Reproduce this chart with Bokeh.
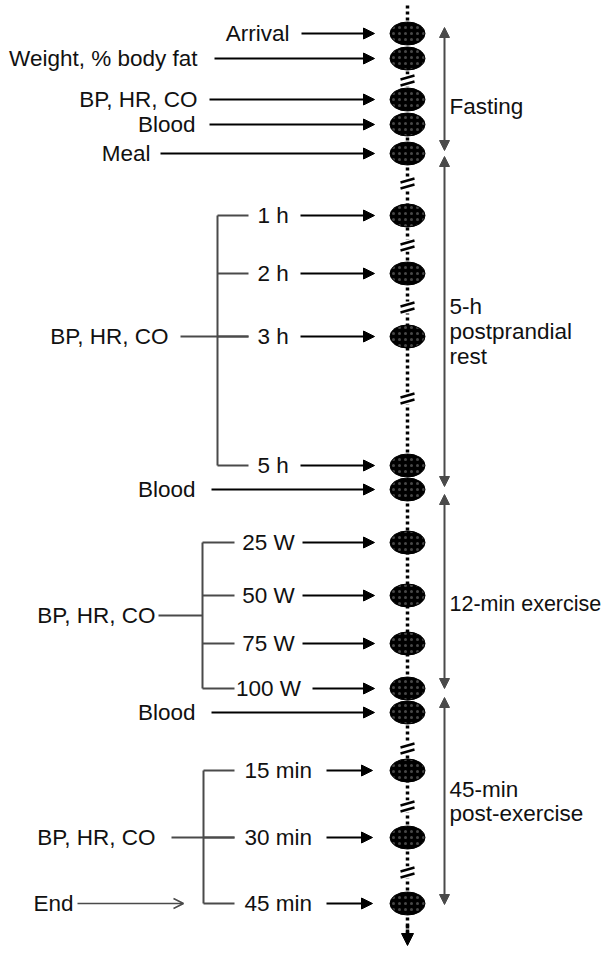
from bokeh.plotting import figure
from bokeh.models import Range1d, Arrow, NormalHead, OpenHead, ColumnDataSource
from bokeh.core.properties import value
from bokeh.embed import file_html
from bokeh.resources import INLINE

# ---------------- data ----------------
# timeline events (top to bottom) and their vertical positions on the timeline
event_labels = ["Arrival", "Weight, % body fat", "BP, HR, CO", "Blood", "Meal",
                "1 h", "2 h", "3 h", "5 h", "Blood",
                "25 W", "50 W", "75 W", "100 W", "Blood",
                "15 min", "30 min", "45 min"]
event_y = [33, 58, 99, 124, 153, 215, 273, 336, 465, 489,
           542, 595, 643, 688, 712, 770, 837, 903]

# single (non-grouped) labels
direct_labels = ["Arrival", "Weight, % body fat", "BP, HR, CO", "Blood", "Meal", "Blood", "Blood"]
direct_y = [33, 58, 99, 124, 153, 489, 712]
direct_text_right = [289, 197, 197, 195, 150, 195, 195]
direct_arrow_start = [301, 214, 209, 209, 160, 211, 211]

# grouped measurements
group_label = "BP, HR, CO"
g1_sub = ["1 h", "2 h", "3 h", "5 h"]
g1_y = [215, 273, 336, 465]
g2_sub = ["25 W", "50 W", "75 W", "100 W"]
g2_y = [542, 595, 643, 688]
g3_sub = ["15 min", "30 min", "45 min"]
g3_y = [770, 837, 903]

# break marks on the timeline
break_y = [80, 183, 245, 307, 398, 748, 806, 872]

# phases (right-hand double arrows)
phase_start = [27, 156, 494, 697]
phase_end = [150, 486, 688, 904]
phase_lines = [["Fasting"], ["5-h", "postprandial", "rest"], ["12-min exercise"], ["45-min", "post-exercise"]]
phase_line_y = [[106], [306, 331, 356], [603], [789, 813]]
phase_font = ["22.5px", "22.5px", "21.5px", "22.5px"]

# ---------------- figure ----------------
W, H = 604, 946
p = figure(width=W, height=H, x_range=Range1d(0, W), y_range=Range1d(H, 0),
           x_axis_type=None, y_axis_type=None, toolbar_location=None,
           output_backend="svg", min_border=0, outline_line_color=None)
p.grid.visible = False
p.background_fill_color = "white"

FONT = value("Liberation Sans")
FS = "22.5px"
TC = "#111111"
GRAY = "#4a4a4a"
XC = 407        # timeline x
TIP = 374       # arrow tip x

# timeline dotted line
p.segment(x0=[XC], y0=[5], x1=[XC], y1=[934], line_color="black", line_width=3.5, line_dash="3 3")
tl = Arrow(end=NormalHead(size=12, fill_color="black", line_color="black"),
           x_start=XC, y_start=925, x_end=XC, y_end=945, line_color="black", line_width=3.5,
           line_dash="3 3")
p.add_layout(tl)

# break marks
p.rect(x=[XC] * len(break_y), y=break_y, width=20, height=12, fill_color="white", line_color=None)
bx0, by0, bx1, by1 = [], [], [], []
for b in break_y:
    bx0 += [XC - 7, XC - 7]
    by0 += [b - 1, b + 5]
    bx1 += [XC + 7, XC + 7]
    by1 += [b - 5, b + 1]
p.segment(x0=bx0, y0=by0, x1=bx1, y1=by1, line_color="black", line_width=2.5)

# event ellipses
p.ellipse(x=[XC] * len(event_y), y=event_y, width=35, height=23, fill_color="black",
          line_color="black", hatch_pattern=".", hatch_color="#474747", hatch_scale=6, hatch_weight=1)

def arrows(x0, y, x1, color="black", lw=2, head=None):
    src = ColumnDataSource(dict(x0=x0, y=y, x1=x1))
    if head is None:
        head = NormalHead(size=11, fill_color=color, line_color=color)
    p.add_layout(Arrow(end=head, source=src, x_start="x0", y_start="y", x_end="x1", y_end="y",
                       line_color=color, line_width=lw))

# direct labels
p.text(x=direct_text_right, y=direct_y, text=direct_labels, text_align="right", text_baseline="middle",
       text_font=FONT, text_font_size=FS, text_color=TC)
arrows(direct_arrow_start, direct_y, [TIP] * len(direct_y))

# group 1 (postprandial)
p.text(x=[168], y=[g1_y[2]], text=[group_label], text_align="right", text_baseline="middle",
       text_font=FONT, text_font_size=FS, text_color=TC)
p.segment(x0=[180], y0=[g1_y[2]], x1=[248], y1=[g1_y[2]], line_color=GRAY, line_width=2)
p.segment(x0=[217], y0=[g1_y[0]], x1=[217], y1=[g1_y[-1]], line_color=GRAY, line_width=2)
p.segment(x0=[217] * 4, y0=g1_y, x1=[248] * 4, y1=g1_y, line_color=GRAY, line_width=2)
p.text(x=[257] * 4, y=g1_y, text=g1_sub, text_align="left", text_baseline="middle",
       text_font=FONT, text_font_size=FS, text_color=TC)
arrows([300] * 4, g1_y, [TIP] * 4)

# group 2 (exercise)
gy2 = 615
p.text(x=[155], y=[gy2], text=[group_label], text_align="right", text_baseline="middle",
       text_font=FONT, text_font_size=FS, text_color=TC)
p.segment(x0=[158], y0=[gy2], x1=[202], y1=[gy2], line_color=GRAY, line_width=2)
p.segment(x0=[202], y0=[g2_y[0]], x1=[202], y1=[g2_y[-1]], line_color=GRAY, line_width=2)
p.segment(x0=[202] * 4, y0=g2_y, x1=[234] * 4, y1=g2_y, line_color=GRAY, line_width=2)
p.text(x=[268] * 4, y=g2_y, text=g2_sub, text_align="center", text_baseline="middle",
       text_font=FONT, text_font_size=FS, text_color=TC)
arrows([302, 302, 302, 312], g2_y, [TIP] * 4)

# group 3 (post-exercise)
p.text(x=[155], y=[g3_y[1]], text=[group_label], text_align="right", text_baseline="middle",
       text_font=FONT, text_font_size=FS, text_color=TC)
p.segment(x0=[171], y0=[g3_y[1]], x1=[234], y1=[g3_y[1]], line_color=GRAY, line_width=2)
p.segment(x0=[203], y0=[g3_y[0]], x1=[203], y1=[g3_y[-1]], line_color=GRAY, line_width=2)
p.segment(x0=[203] * 3, y0=g3_y, x1=[234] * 3, y1=g3_y, line_color=GRAY, line_width=2)
p.text(x=[244] * 3, y=g3_y, text=g3_sub, text_align="left", text_baseline="middle",
       text_font=FONT, text_font_size=FS, text_color=TC)
arrows([326] * 3, g3_y, [372] * 3)

# End
p.text(x=[33], y=[g3_y[-1]], text=["End"], text_align="left", text_baseline="middle",
       text_font=FONT, text_font_size=FS, text_color=TC)
arrows([77], [g3_y[-1]], [183], color=GRAY, lw=1.5,
       head=OpenHead(size=10, line_color=GRAY, line_width=1.5))

# phases
for s, e, lines, ly, fs in zip(phase_start, phase_end, phase_lines, phase_line_y, phase_font):
    p.add_layout(Arrow(start=NormalHead(size=10, fill_color=GRAY, line_color=GRAY),
                       end=NormalHead(size=10, fill_color=GRAY, line_color=GRAY),
                       x_start=444, y_start=s, x_end=444, y_end=e, line_color=GRAY, line_width=2))
    p.text(x=[449] * len(lines), y=ly, text=lines, text_align="left", text_baseline="middle",
           text_font=FONT, text_font_size=fs, text_color=TC)

open("out.html", "w").write(file_html(p, INLINE))
